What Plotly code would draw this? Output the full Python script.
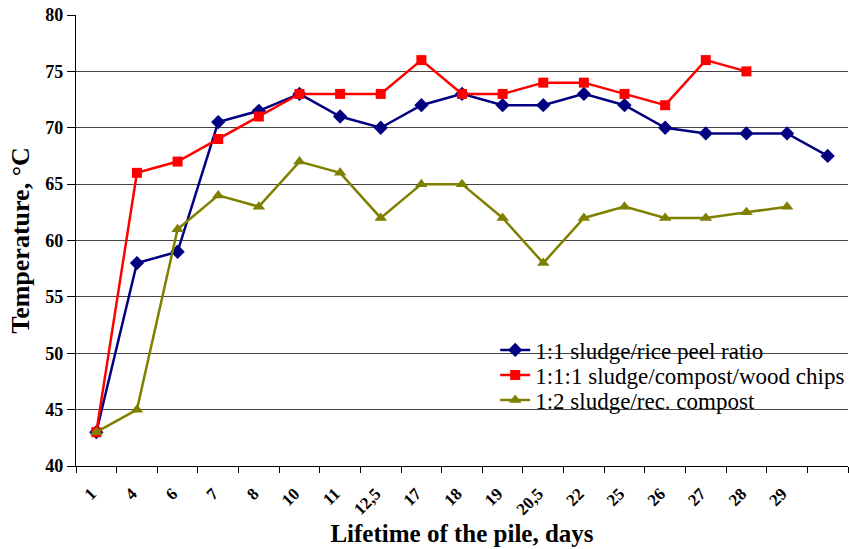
import plotly.graph_objects as go

# Day of measurement for each sampling point (last point has no label)
days = ["1", "4", "6", "7", "8", "10", "11", "12,5", "17", "18", "19",
        "20,5", "22", "25", "26", "27", "28", "29", " "]

# Pile temperatures, °C
rice_peel = [43, 58, 59, 70.5, 71.5, 73, 71, 70, 72, 73, 72, 72, 73, 72,
             70, 69.5, 69.5, 69.5, 67.5]
compost_wood = [43, 66, 67, 69, 71, 73, 73, 73, 76, 73, 73, 74, 74, 73,
                72, 76, 75]
rec_compost = [43, 45, 61, 64, 63, 67, 66, 62, 65, 65, 62, 58, 62, 63,
               62, 62, 62.5, 63]

serif = "Liberation Serif, Times New Roman, serif"

fig = go.Figure()
fig.add_trace(go.Scatter(
    x=days[:len(rice_peel)], y=rice_peel, mode="lines+markers",
    name="1:1 sludge/rice peel ratio", legend="legend",
    line=dict(color="#000080", width=2.5),
    marker=dict(symbol="diamond", size=11, color="#000080"),
))
fig.add_trace(go.Scatter(
    x=days[:len(compost_wood)], y=compost_wood, mode="lines+markers",
    name="1:1:1 sludge/compost/wood chips", legend="legend2",
    line=dict(color="#ff0000", width=2.5),
    marker=dict(symbol="square", size=10, color="#ff0000"),
))
fig.add_trace(go.Scatter(
    x=days[:len(rec_compost)], y=rec_compost, mode="lines+markers",
    name="1:2 sludge/rec. compost", legend="legend3",
    line=dict(color="#808000", width=2.5),
    marker=dict(symbol="triangle-up", size=11, color="#808000"),
))

# white panel behind the legend hides the gridlines there
fig.add_shape(type="rect", xref="paper", yref="paper",
              x0=0.501, x1=1.0, y0=0.09, y1=0.30,
              fillcolor="white", line=dict(width=0), layer="between")

legend_common = dict(x=0.543, xanchor="left", yanchor="middle",
                     bgcolor="rgba(0,0,0,0)", itemwidth=30,
                     font=dict(size=23, family=serif, color="black"))

fig.update_layout(
    width=849, height=549,
    margin=dict(l=76, r=1, t=15, b=83, autoexpand=False),
    paper_bgcolor="white", plot_bgcolor="white",
    font=dict(family=serif, color="black"),
    showlegend=True,
    legend=dict(y=0.2572, **legend_common),
    legend2=dict(y=0.2018, **legend_common),
    legend3=dict(y=0.1463, **legend_common),
)
fig.update_xaxes(
    type="category", categoryorder="array", categoryarray=days,
    range=[-0.5, len(days) - 0.5],
    tickson="boundaries", ticks="outside", ticklen=6, tickcolor="black",
    showline=True, linecolor="black", linewidth=1.2,
    showgrid=False, zeroline=False, tickangle=-45,
    ticklabelstandoff=10, ticklabelshift=-5,
    tickfont=dict(size=17, family=serif, weight="bold"),
    title=dict(text="<b>Lifetime of the pile, days</b>",
               font=dict(size=25, family=serif), standoff=6),
)
fig.update_yaxes(
    range=[40, 80], dtick=5, tick0=40,
    ticks="outside", ticklen=8, tickcolor="black",
    showline=True, linecolor="black", linewidth=1.2,
    showgrid=True, gridcolor="#444444", gridwidth=1, zeroline=False,
    tickfont=dict(size=18, family=serif, weight="bold"),
    title=dict(text="<b>Temperature, °C</b>",
               font=dict(size=26, family=serif), standoff=8),
)

fig.write_html("out.html")
